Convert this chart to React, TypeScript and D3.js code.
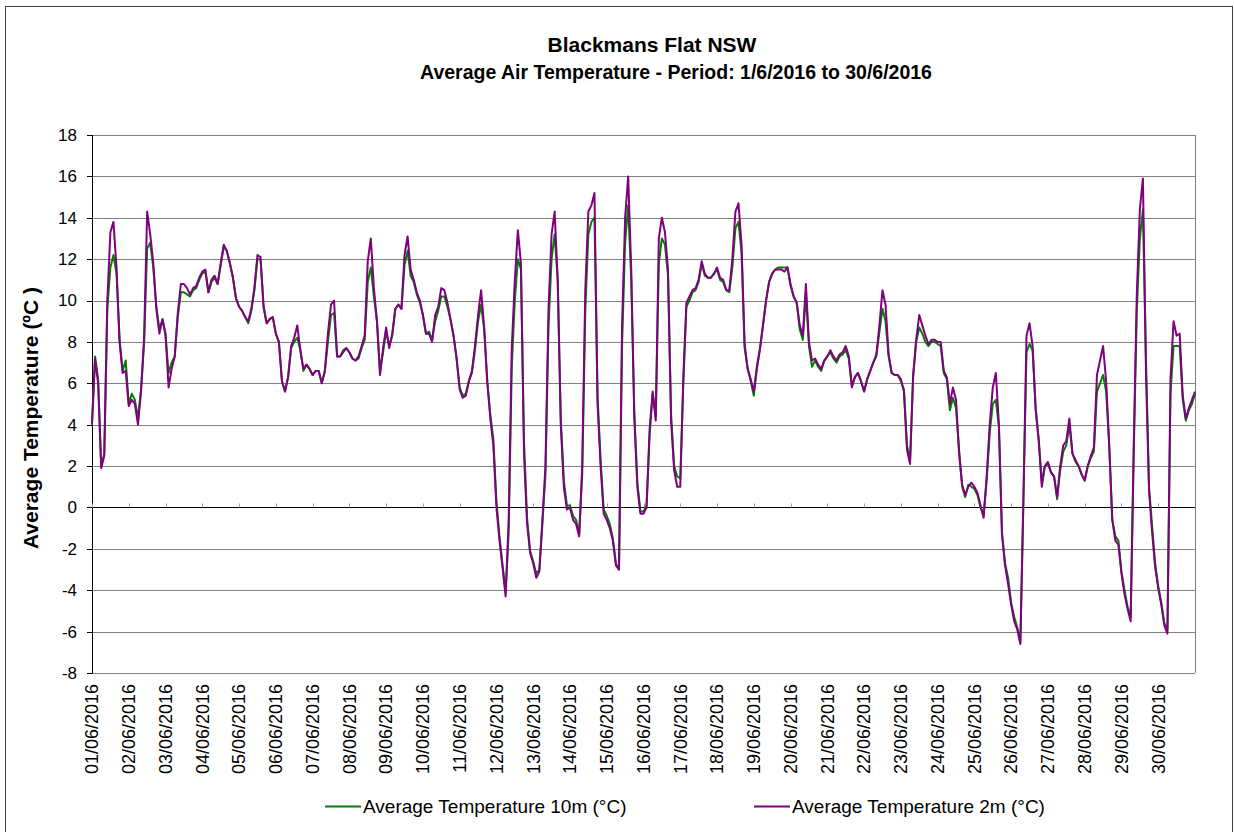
import React from 'react';
import * as d3 from 'd3';

// 2-hourly readings, 12 per day, 1/6/2016 00:00 .. 30/6/2016 24:00
const temp2m = [
  4.0, 7.2, 6.0, 1.9, 2.5, 10.0, 13.3, 13.8, 11.6, 8.0, 6.5, 6.6,
  4.9, 5.2, 5.0, 4.0, 5.6, 8.2, 14.3, 13.2, 11.8, 9.6, 8.4, 9.1,
  8.4, 5.8, 6.7, 7.3, 9.4, 10.8, 10.8, 10.6, 10.3, 10.6, 10.7, 11.1,
  11.4, 11.5, 10.4, 11.0, 11.2, 10.8, 11.8, 12.7, 12.4, 11.8, 11.1, 10.1,
  9.7, 9.5, 9.2, 9.0, 9.6, 10.6, 12.2, 12.1, 9.7, 8.9, 9.1, 9.2,
  8.4, 8.0, 6.1, 5.6, 6.3, 7.8, 8.2, 8.8, 7.6, 6.7, 6.9, 6.7,
  6.4, 6.6, 6.6, 6.0, 6.6, 8.4, 9.8, 10.0, 7.3, 7.3, 7.5, 7.7,
  7.5, 7.2, 7.1, 7.3, 7.8, 8.3, 11.9, 13.0, 10.6, 9.0, 6.4, 7.7,
  8.7, 7.7, 8.4, 9.6, 9.8, 9.6, 12.2, 13.1, 11.5, 11.0, 10.4, 10.0,
  9.3, 8.4, 8.4, 8.0, 9.3, 9.7, 10.6, 10.5, 9.9, 9.1, 8.3, 7.2,
  5.7, 5.3, 5.4, 6.1, 6.6, 7.8, 9.3, 10.5, 8.7, 6.1, 4.3, 3.0,
  0.0, -1.6, -2.9, -4.3, -0.6, 7.7, 11.0, 13.4, 11.8, 2.6, -0.8, -2.2,
  -2.7, -3.4, -3.1, -0.6, 2.0, 9.6, 13.2, 14.3, 11.0, 4.0, 1.0, -0.1,
  0.0, -0.6, -0.8, -1.4, 2.0, 10.5, 14.3, 14.6, 15.2, 5.0, 2.0, -0.3,
  -0.6, -1.0, -1.6, -2.8, -3.0, 8.8, 14.0, 16.0, 11.5, 4.3, 1.0, -0.3,
  -0.3, 0.0, 3.8, 5.6, 4.2, 13.0, 14.0, 13.3, 11.5, 4.2, 1.8, 1.0,
  1.0, 6.3, 9.9, 10.2, 10.5, 10.6, 11.0, 11.9, 11.3, 11.1, 11.1, 11.3,
  11.6, 11.1, 11.0, 10.5, 10.5, 12.0, 14.3, 14.7, 12.7, 7.9, 6.7, 6.2,
  5.6, 6.8, 7.7, 8.8, 10.0, 10.9, 11.3, 11.5, 11.5, 11.5, 11.4, 11.6,
  10.8, 10.2, 9.9, 8.8, 8.3, 10.8, 8.0, 7.1, 7.2, 6.9, 6.7, 7.1,
  7.3, 7.6, 7.3, 7.1, 7.4, 7.5, 7.8, 7.3, 5.8, 6.3, 6.5, 6.1,
  5.6, 6.2, 6.6, 7.0, 7.4, 8.8, 10.5, 9.8, 7.4, 6.5, 6.4, 6.4,
  6.2, 5.6, 2.8, 2.1, 6.4, 8.1, 9.3, 8.8, 8.3, 7.9, 8.1, 8.1,
  8.0, 8.0, 6.6, 6.3, 5.0, 5.8, 5.2, 2.6, 1.1, 0.6, 1.0, 1.2,
  1.0, 0.7, 0.1, -0.5, 1.5, 4.0, 5.8, 6.5, 4.0, -1.3, -2.8, -3.7,
  -4.7, -5.5, -5.9, -6.6, 0.5, 8.3, 8.9, 7.8, 4.7, 3.2, 1.0, 2.0,
  2.2, 1.7, 1.5, 0.5, 2.0, 3.0, 3.2, 4.3, 2.6, 2.3, 2.0, 1.6,
  1.3, 2.0, 2.5, 2.9, 6.4, 7.1, 7.8, 6.1, 3.0, -0.6, -1.6, -1.8,
  -3.2, -4.2, -4.9, -5.5, 3.0, 10.3, 14.4, 15.9, 6.5, 0.8, -1.2, -2.9,
  -3.9, -4.7, -5.7, -6.1, 6.2, 9.0, 8.3, 8.4, 5.4, 4.3, 4.8, 5.2,
  5.6,
];

const temp10m = [
  4.1, 7.3, 6.2, 2.0, 2.6, 9.6, 11.6, 12.2, 11.3, 8.1, 6.6, 7.1,
  5.0, 5.5, 5.2, 4.3, 5.7, 7.9, 12.5, 12.8, 11.6, 9.7, 8.6, 9.1,
  8.3, 6.5, 7.0, 7.3, 9.2, 10.4, 10.4, 10.3, 10.2, 10.5, 10.6, 11.0,
  11.3, 11.4, 10.4, 10.9, 11.1, 10.8, 11.7, 12.6, 12.4, 11.8, 11.1, 10.1,
  9.7, 9.5, 9.2, 8.9, 9.5, 10.5, 12.0, 12.0, 9.7, 8.9, 9.1, 9.2,
  8.4, 8.0, 6.1, 5.6, 6.3, 7.7, 8.0, 8.2, 7.6, 6.6, 6.9, 6.7,
  6.4, 6.6, 6.6, 6.0, 6.6, 8.0, 9.3, 9.4, 7.3, 7.3, 7.6, 7.7,
  7.5, 7.2, 7.1, 7.2, 7.7, 8.1, 10.9, 11.6, 10.2, 9.0, 6.6, 7.5,
  8.5, 7.8, 8.3, 9.6, 9.8, 9.6, 11.7, 12.4, 11.2, 10.9, 10.3, 9.9,
  9.3, 8.4, 8.5, 8.1, 9.0, 9.5, 10.2, 10.2, 9.7, 9.1, 8.3, 7.2,
  5.8, 5.4, 5.5, 6.1, 6.5, 7.6, 9.0, 9.8, 8.6, 6.1, 4.5, 3.3,
  0.3, -1.4, -2.8, -4.1, -1.2, 6.8, 10.0, 12.0, 11.5, 3.2, -0.5, -2.1,
  -2.6, -3.2, -3.0, -0.8, 1.6, 8.8, 12.0, 13.2, 11.0, 4.3, 1.3, 0.1,
  0.1, -0.4, -0.6, -1.3, 1.6, 9.5, 13.2, 13.8, 14.0, 5.4, 2.3, -0.1,
  -0.4, -0.8, -1.5, -2.7, -3.0, 7.8, 12.8, 14.6, 11.0, 4.6, 1.2, -0.2,
  -0.2, 0.1, 3.5, 5.5, 4.4, 11.8, 13.0, 12.7, 11.2, 4.5, 2.0, 1.5,
  1.4, 6.0, 9.7, 10.0, 10.4, 10.5, 10.9, 11.8, 11.2, 11.1, 11.1, 11.3,
  11.5, 11.0, 10.9, 10.5, 10.4, 11.6, 13.5, 13.8, 12.3, 7.7, 6.7, 6.1,
  5.4, 6.7, 7.6, 8.8, 10.0, 10.9, 11.3, 11.5, 11.6, 11.6, 11.6, 11.6,
  10.7, 10.2, 9.9, 8.6, 8.1, 10.3, 7.8, 6.8, 7.1, 6.8, 6.6, 7.1,
  7.3, 7.5, 7.2, 7.0, 7.3, 7.4, 7.6, 7.2, 5.9, 6.3, 6.5, 6.1,
  5.6, 6.2, 6.6, 7.0, 7.3, 8.5, 9.6, 9.0, 7.3, 6.5, 6.4, 6.4,
  6.1, 5.7, 3.0, 2.3, 6.3, 8.0, 8.7, 8.4, 8.0, 7.8, 8.0, 8.0,
  7.9, 7.8, 6.5, 6.2, 4.7, 5.3, 4.8, 2.8, 1.0, 0.5, 1.1, 1.0,
  0.9, 0.6, 0.0, -0.4, 1.3, 3.6, 5.0, 5.2, 3.9, -1.2, -2.7, -3.4,
  -4.6, -5.3, -5.8, -6.5, 0.3, 7.5, 7.9, 7.6, 4.8, 3.3, 1.2, 2.0,
  2.1, 1.7, 1.5, 0.4, 1.8, 2.7, 3.0, 4.0, 2.6, 2.2, 2.0, 1.6,
  1.3, 2.0, 2.4, 2.7, 5.6, 6.0, 6.4, 5.6, 3.0, -0.6, -1.4, -1.6,
  -3.1, -4.0, -4.8, -5.3, 2.5, 9.5, 13.0, 14.4, 7.2, 1.0, -0.9, -2.7,
  -3.8, -4.6, -5.6, -5.9, 5.5, 7.8, 7.8, 7.8, 5.2, 4.2, 4.7, 5.0,
  5.5,
];

const dayLabels = [
  '01/06/2016', '02/06/2016', '03/06/2016', '04/06/2016', '05/06/2016',
  '06/06/2016', '07/06/2016', '08/06/2016', '09/06/2016', '10/06/2016',
  '11/06/2016', '12/06/2016', '13/06/2016', '14/06/2016', '15/06/2016',
  '16/06/2016', '17/06/2016', '18/06/2016', '19/06/2016', '20/06/2016',
  '21/06/2016', '22/06/2016', '23/06/2016', '24/06/2016', '25/06/2016',
  '26/06/2016', '27/06/2016', '28/06/2016', '29/06/2016', '30/06/2016',
];

const yTicks = [-8, -6, -4, -2, 0, 2, 4, 6, 8, 10, 12, 14, 16, 18];

const seriesNames = ['Average Temperature 10m (°C)', 'Average Temperature 2m (°C)'];
const seriesColors = ['#008000', '#800080'];

const FONT = '"Liberation Sans", Arial, sans-serif';
const PER_DAY = 12;

export default function App() {
  const left = 92, right = 1195, top = 135, bottom = 673;

  const x = d3.scaleLinear().domain([0, dayLabels.length * PER_DAY]).range([left, right]);
  const y = d3.scaleLinear().domain([-8, 18]).range([bottom, top]);

  const line = d3.line<number>()
    .x((d, i) => x(i))
    .y(d => y(d));

  const series = [temp10m, temp2m];

  return (
    <svg width={1234} height={832} style={{ position: 'absolute', left: 0, top: 0, background: '#fff' }}
      fontFamily={FONT}>
      <rect x={5.5} y={6.5} width={1227} height={840} fill="#fff" stroke="#404040" strokeWidth={1} />

      <text x={652} y={52} textAnchor="middle" fontSize={21} fontWeight="bold">Blackmans Flat NSW</text>
      <text x={676} y={79} textAnchor="middle" fontSize={19.5} fontWeight="bold">
        Average Air Temperature - Period: 1/6/2016 to 30/6/2016
      </text>

      {/* gridlines */}
      {yTicks.map(t => (
        <line key={'g' + t} x1={left} x2={right} y1={Math.round(y(t)) + 0.5} y2={Math.round(y(t)) + 0.5}
          stroke={t === 0 ? '#000' : '#808080'} strokeWidth={1} />
      ))}
      <line x1={right + 0.5} x2={right + 0.5} y1={top} y2={bottom} stroke="#808080" />
      <line x1={left + 0.5} x2={left + 0.5} y1={top} y2={bottom + 0.5} stroke="#000" />

      {/* y ticks and labels */}
      {yTicks.map(t => (
        <g key={'t' + t}>
          <line x1={left - 5} x2={left} y1={Math.round(y(t)) + 0.5} y2={Math.round(y(t)) + 0.5} stroke="#000" />
          <text x={77} y={y(t)} dy="0.35em" textAnchor="end" fontSize={17}>{t}</text>
        </g>
      ))}

      {/* day ticks on the zero line */}
      {dayLabels.map((d, i) => (
        <line key={'dt' + i} x1={Math.round(x(i * PER_DAY)) + 0.5} x2={Math.round(x(i * PER_DAY)) + 0.5}
          y1={y(0) - 4} y2={y(0)} stroke="#a0a0a0" />
      ))}

      {/* day labels */}
      {dayLabels.map((d, i) => (
        <text key={'dl' + i} transform={`translate(${x(i * PER_DAY)},${bottom + 11}) rotate(-90)`}
          dy="0.35em" textAnchor="end" fontSize={18}>{d}</text>
      ))}

      <text transform={`translate(38,418) rotate(-90)`} textAnchor="middle"
        fontSize={21} fontWeight="bold">Average Temperature (ºC )</text>

      {/* data */}
      {series.map((s, i) => (
        <path key={'s' + i} d={line(s) || ''} fill="none" stroke={seriesColors[i]} strokeWidth={2}
          strokeLinejoin="round" />
      ))}

      {/* legend */}
      {[325, 754].map((lx, i) => (
        <g key={'lg' + i}>
          <line x1={lx} x2={lx + 36} y1={806.5} y2={806.5} stroke={seriesColors[i]} strokeWidth={2} />
          <text x={lx + 38} y={806} dy="0.35em" fontSize={19}>{seriesNames[i]}</text>
        </g>
      ))}
    </svg>
  );
}
